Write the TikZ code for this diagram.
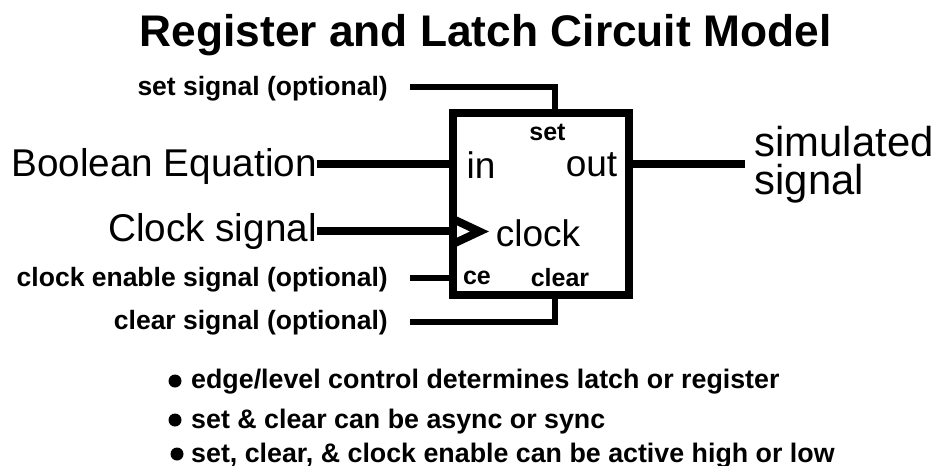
\documentclass[tikz,border=0pt]{standalone}
\usepackage{fontspec}
\setmainfont{Liberation Sans}
\tikzset{
    x={1pt},
    y={-1pt},
    wire/.style={
        draw=black,
        line width={8pt},
    },
    thin wire/.style={
        draw=black,
        line width={6pt},
    },
    block/.style={
        draw=black,
        line width={8pt},
        fill=white,
        minimum width={175.5},
        minimum height={182},
        inner sep=0pt,
    },
    big label/.style={
        font={\fontsize{38.7}{40}\selectfont},
        inner sep=0pt,
    },
    small label/.style={
        font={\fontsize{26.5}{30}\selectfont\bfseries},
        inner sep=0pt,
    },
    port label/.style={
        font={\fontsize{37}{40}\selectfont},
        inner sep=0pt,
    },
    tiny port/.style={
        font={\fontsize{25}{28}\selectfont\bfseries},
        inner sep=0pt,
    },
    bullet label/.style={
        font={\fontsize{26.8}{30}\selectfont\bfseries},
        inner sep=0pt,
        anchor=base west,
    },
    bullet dot/.style={
        circle, fill=black,
        inner sep=0pt,
        minimum size={13},
    },
}
\begin{document}
\begin{tikzpicture}
\useasboundingbox[fill=white] (0,0) rectangle (938,466);
% title
\node[font={\fontsize{44.3}{48}\selectfont\bfseries}, inner sep=0pt] (title) at (485.5,35) {Register and Latch Circuit Model};
% block
\node[block] (reg) at (540.75,204) {};
% labels
\node[small label, anchor=east] (setsig) at (388,89) {set signal (optional)};
\node[big label, anchor=east] (bool) at (317,166) {Boolean Equation};
\node[big label, anchor=east] (clk) at (317,231) {Clock signal};
\node[small label, anchor=east] (cesig) at (388,280) {clock enable signal (optional)};
\node[small label, anchor=east] (clrsig) at (388,323) {clear signal (optional)};
\node[font={\fontsize{41.8}{38}\selectfont}, inner sep=0pt, anchor=west, align=left] (sim) at (754.5,165) {simulated\\signal};
% ports
\node[tiny port] (pset) at (547.5,132) {set};
\node[port label] (pin) at (481,165) {in};
\node[port label] (pout) at (591.5,165) {out};
\node[port label] (pclock) at (538,233) {clock};
\node[tiny port] (pce) at (477,278) {ce};
\node[tiny port] (pclear) at (560,278) {clear};
% wires
\coordinate (setstart) at (410,87);
\coordinate (clrstart) at (410,322);
\coordinate (cestart) at (410,278);
\coordinate (outend) at (745,164);
\coordinate (settop) at (555,113);
\coordinate (clrbot) at (555,295);
\coordinate (boolend) at (317,164);
\coordinate (clkend) at (317,231);
\draw[thin wire] (setstart) -| (settop);
\draw[thin wire] (clrstart) -| (clrbot);
\draw[wire] (boolend) -- (boolend -| reg.west);
\draw[wire] (clkend) -- (clkend -| reg.west);
\draw[thin wire] (cestart) -- (cestart -| reg.west);
\draw[wire] (outend -| reg.east) -- (outend);
% clock triangle
\draw[line width={8pt}, miter limit=10] (455,220) -- (479.5,231.5) -- (455,243);
% bullets
\node[bullet dot] (d1) at (175,381) {};
\node[bullet dot] (d2) at (175,420) {};
\node[bullet dot] (d3) at (177,454) {};
\node[bullet label] (b1) at (191,388) {edge/level control determines latch or register};
\node[bullet label] (b2) at (191,428) {set \& clear can be async or sync};
\node[bullet label] (b3) at (191,462) {set, clear, \& clock enable can be active high or low};
\end{tikzpicture}
\end{document}
